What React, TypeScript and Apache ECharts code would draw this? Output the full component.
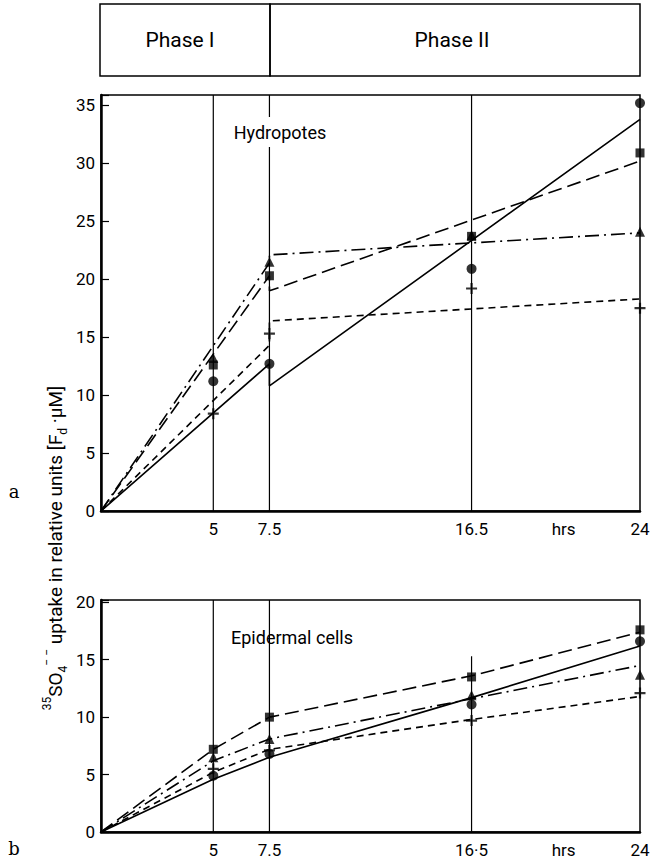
import React, { useEffect, useRef } from "react";
import * as echarts from "echarts";

// ---- data ----
const hours = [5, 7.5, 16.5, 24];
const gridHours = [5, 7.5, 16.5];
const xTickValues = [5, 7.5, 16.5, 20.6, 24];

// panel a (Hydropotes) measured points
const topCircle = [11.2, 12.7, 20.9, 35.2];
const topSquare = [12.6, 20.3, 23.7, 30.9];
const topTriangle = [13.2, 21.5, 23.8, 24.1];
const topPlus = [8.4, 15.3, 19.2, 17.5];

// panel a fitted lines (phase I: 0 -> 7.5, phase II: 7.5 -> 24)
const topFitX = [0, 7.5, 7.5, 24];
const topSolidFit = [0, 12.7, 10.8, 33.8];
const topLongDashFit = [0, 20.3, 19.0, 30.2];
const topDashDotFit = [0, 21.4, 22.1, 24.0];
const topShortDashFit = [0, 14.3, 16.4, 18.3];

// panel b (Epidermal cells) measured points
const botSquare = [7.2, 10.0, 13.5, 17.6];
const botTriangle = [6.5, 8.1, 11.9, 13.7];
const botCircle = [4.9, 6.8, 11.1, 16.6];
const botPlus = [5.5, 7.1, 9.7, 12.1];

// panel b lines
const botFitX = [0, 5, 7.5, 16.5, 24];
const botLongDash = [0, 7.2, 10.0, 13.6, 17.4];
const botSolid = [0, 4.6, 6.5, 11.7, 16.2];
const botDashDot = [0, 6.2, 8.1, 11.6, 14.5];
const botShortDash = [0, 5.2, 7.2, 9.8, 11.8];

const topMax = 35.9;
const botMax = 20.2;
const botGridTop = [botMax, botMax, 15.3];

const FONT = 'Roboto, "DejaVu Sans", sans-serif';
const PLUS = "path://M4,0H6V4H10V6H6V10H4V6H0V4H4Z";

const zip = (xs: number[], ys: number[]) => xs.map((x, i) => [x, ys[i]]);

export default function App() {
  const ref = useRef<HTMLDivElement>(null);
  useEffect(() => {
    if (!ref.current) return;
    const chart = echarts.init(ref.current, null, { renderer: "svg" });

    const xAxisBase = (gridIndex: number) => ({
      type: "value",
      gridIndex,
      min: 0,
      max: 24,
      axisLine: { show: true, onZero: false, lineStyle: { color: "#000", width: 2.5 } },
      axisTick: { show: false },
      splitLine: { show: false },
      axisLabel: {
        customValues: xTickValues,
        color: "#000",
        fontSize: 17,
        fontFamily: FONT,
        margin: 9,
        formatter: (v: number) =>
          v === 20.6 ? "hrs" : v === 16.5 && gridIndex === 1 ? "16·5" : String(v),
      },
    });
    const yAxisBase = (gridIndex: number, max: number) => ({
      type: "value",
      gridIndex,
      min: 0,
      max,
      interval: 5,
      axisLine: { show: true, lineStyle: { color: "#000", width: 2.5 } },
      axisTick: { show: true, inside: true, length: 8, lineStyle: { color: "#000", width: 1.2 } },
      splitLine: { show: false },
      axisLabel: {
        color: "#000",
        fontSize: 17,
        fontFamily: FONT,
        margin: 6,
        formatter: (v: number) => (v % 5 === 0 ? String(v) : ""),
      },
    });

    const lineSeries = (name: string, xi: number, data: number[][], type: any) => ({
      name,
      type: "line",
      xAxisIndex: xi,
      yAxisIndex: xi,
      data,
      symbol: "none",
      lineStyle: { color: "#000", width: 1.6, type },
      z: 3,
    });
    const scatterSeries = (name: string, xi: number, ys: number[], symbol: string, size: number) => ({
      name,
      type: "scatter",
      xAxisIndex: xi,
      yAxisIndex: xi,
      data: zip(hours, ys),
      symbol,
      symbolSize: size,
      itemStyle: { color: "#000" },
      z: 5,
    });

    const verticals: any[] = [];
    gridHours.forEach((h, i) => {
      verticals.push({
        type: "line",
        xAxisIndex: 0,
        yAxisIndex: 0,
        data: [[h, 0], [h, topMax]],
        symbol: "none",
        lineStyle: { color: "#000", width: 1.2 },
        z: 2,
      });
      verticals.push({
        type: "line",
        xAxisIndex: 1,
        yAxisIndex: 1,
        data: [[h, 0], [h, botGridTop[i]]],
        symbol: "none",
        lineStyle: { color: "#000", width: 1.2 },
        z: 2,
      });
    });

    const LONG = [14, 6];
    const SHORT = [7, 5];
    const DASHDOT = [14, 5, 2, 5];

    const option: any = {
      animation: false,
      backgroundColor: "#fff",
      grid: [
        { left: 101, top: 95, width: 539, height: 416, show: true, borderColor: "#000", borderWidth: 1.5 },
        { left: 101, top: 600, width: 539, height: 232, show: true, borderColor: "#000", borderWidth: 1.5 },
      ],
      xAxis: [xAxisBase(0), xAxisBase(1)],
      yAxis: [yAxisBase(0, topMax), yAxisBase(1, botMax)],
      series: [
        ...verticals,
        lineSeries("a solid", 0, zip(topFitX, topSolidFit), "solid"),
        lineSeries("a long dash", 0, zip(topFitX, topLongDashFit), LONG),
        lineSeries("a dash dot", 0, zip(topFitX, topDashDotFit), DASHDOT),
        lineSeries("a short dash", 0, zip(topFitX, topShortDashFit), SHORT),
        scatterSeries("a circle", 0, topCircle, "circle", 10),
        scatterSeries("a square", 0, topSquare, "rect", 9),
        scatterSeries("a triangle", 0, topTriangle, "triangle", 10),
        scatterSeries("a plus", 0, topPlus, PLUS, 11),
        lineSeries("b solid", 1, zip(botFitX, botSolid), "solid"),
        lineSeries("b long dash", 1, zip(botFitX, botLongDash), LONG),
        lineSeries("b dash dot", 1, zip(botFitX, botDashDot), DASHDOT),
        lineSeries("b short dash", 1, zip(botFitX, botShortDash), SHORT),
        scatterSeries("b circle", 1, botCircle, "circle", 10),
        scatterSeries("b square", 1, botSquare, "rect", 9),
        scatterSeries("b triangle", 1, botTriangle, "triangle", 10),
        scatterSeries("b plus", 1, botPlus, PLUS, 11),
      ],
      graphic: [
        {
          type: "rect",
          z: 100,
          shape: { x: 100, y: 4, width: 170, height: 72 },
          style: { fill: "none", stroke: "#000", lineWidth: 1.5 },
        },
        {
          type: "rect",
          z: 100,
          shape: { x: 270, y: 4, width: 370, height: 72 },
          style: { fill: "none", stroke: "#000", lineWidth: 1.5 },
        },
        {
          type: "text",
          z: 100,
          x: 180,
          y: 40,
          style: { text: "Phase I", fontSize: 21, fontFamily: FONT, fill: "#000", align: "center", verticalAlign: "middle" },
        },
        {
          type: "text",
          z: 100,
          x: 452,
          y: 40,
          style: { text: "Phase II", fontSize: 21, fontFamily: FONT, fill: "#000", align: "center", verticalAlign: "middle" },
        },
        {
          type: "text",
          z: 100,
          x: 280,
          y: 132,
          style: {
            text: "Hydropotes",
            fontSize: 18,
            fontFamily: FONT,
            fill: "#000",
            align: "center",
            verticalAlign: "middle",
            backgroundColor: "#fff",
            padding: [6, 4],
          },
        },
        {
          type: "text",
          z: 100,
          x: 292,
          y: 637,
          style: {
            text: "Epidermal cells",
            fontSize: 18,
            fontFamily: FONT,
            fill: "#000",
            align: "center",
            verticalAlign: "middle",
          },
        },
        {
          type: "text",
          z: 100,
          x: 14,
          y: 491,
          style: { text: "a", fontSize: 18, fontFamily: "'DejaVu Serif', serif", fill: "#000", align: "center", verticalAlign: "middle" },
        },
        {
          type: "text",
          z: 100,
          x: 14,
          y: 848,
          style: { text: "b", fontSize: 18, fontFamily: "'DejaVu Serif', serif", fill: "#000", align: "center", verticalAlign: "middle" },
        },
        {
          type: "text",
          z: 100,
          x: 55,
          y: 548,
          rotation: Math.PI / 2,
          style: {
            text: "{sup|35}{n|SO}{sub|4}{sup|− −}{n| uptake in relative units [F}{sub|d}{n| ·µM]}",
            fontFamily: FONT,
            fill: "#000",
            align: "center",
            verticalAlign: "middle",
            rich: {
              n: { fontSize: 19, fontFamily: FONT, fill: "#000", color: "#000", lineHeight: 28 },
              sup: { fontSize: 12, fontFamily: FONT, fill: "#000", color: "#000", verticalAlign: "top", lineHeight: 28 },
              sub: { fontSize: 12, fontFamily: FONT, fill: "#000", color: "#000", verticalAlign: "bottom", lineHeight: 28 },
            },
          },
        },
      ],
    };
    chart.setOption(option);
    return () => chart.dispose();
  }, []);

  return (
    <div
      ref={ref}
      style={{ position: "fixed", left: 0, top: 0, width: 657, height: 863, background: "#fff" }}
    />
  );
}
